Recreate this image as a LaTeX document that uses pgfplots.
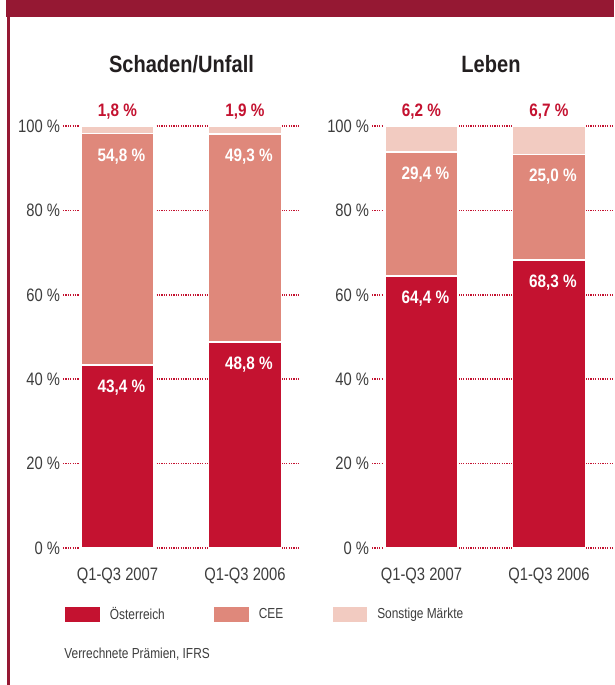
\documentclass[border=0pt]{standalone}
\usepackage{fontspec}
\setmainfont{Liberation Sans}[FakeStretch=0.82]
\newfontfamily\bcond{Liberation Sans}[FakeStretch=0.85]
\usepackage{pgfplots}
\pgfplotsset{compat=1.18}
\definecolor{oest}{HTML}{C41230}
\definecolor{cee}{HTML}{DF887B}
\definecolor{sonst}{HTML}{F2CBC1}
\definecolor{banner}{HTML}{951833}
\definecolor{tickgray}{HTML}{3D3D3D}
\definecolor{titlegray}{HTML}{231F20}

\pgfplotsset{
  panel/.style={
    scale only axis, height=211pt,
    ymin=0, ymax=100,
    ybar stacked, bar width=36.5pt,
    enlargelimits=false, clip=false,
    axis line style={draw=none}, tick style={draw=none}, major tick length=0pt,
    ytick={0,20,...,100},
    yticklabels={0 \%,20 \%,40 \%,60 \%,80 \%,100 \%},
    ymajorgrids,
    grid style={line width=0.75pt, draw=oest, dash pattern=on 0.6pt off 0.6pt},
    yticklabel style={anchor=east, inner sep=0pt, xshift=-1.25pt,
      font=\fontsize{9}{10}\selectfont, text=tickgray},
    xtick={0,1},
    xticklabels={Q1-Q3 2007,Q1-Q3 2006},
    xticklabel style={anchor=north, inner sep=0pt, yshift=-10pt,
      font=\fontsize{9}{10}\selectfont, text=tickgray},
    every axis plot/.append style={draw=white, line width=0.75pt},
  },
  leg/.style={legend image code/.code={\fill[##1] (0pt,-4.25pt) rectangle (18pt,4.25pt);}},
}
\tikzset{
  inlab/.style={anchor=north east, inner sep=0pt, yshift=-7.25pt, text=white,
    font=\bcond\bfseries\fontsize{9}{10}\selectfont},
  toplab/.style={anchor=base, inner sep=0pt, yshift=5pt, text=oest,
    font=\bcond\bfseries\fontsize{9}{10}\selectfont},
}

\begin{document}
\begin{tikzpicture}
\fill[white] (0,0) rectangle (307pt,-342.5pt);
\fill[banner] (3pt,0) rectangle (307pt,-8.5pt);
\fill[banner] (3.5pt,0) rectangle (4.9pt,-342.5pt);

\node[anchor=base, text=titlegray, font=\bcond\bfseries\fontsize{11.8}{13}\selectfont]
  at (90.75pt,-36.25pt) {Schaden/Unfall};
\node[anchor=base, text=titlegray, font=\bcond\bfseries\fontsize{11.8}{13}\selectfont]
  at (245.5pt,-36.25pt) {Leben};

% Left panel
\begin{axis}[panel, at={(31.5pt,-274pt)}, anchor=south west,
  width=118.5pt, xmin=-0.4275, xmax=1.4314,
  legend style={draw=none, fill=none, inner sep=0pt, outer sep=0pt,
    at={(axis description cs:0.0042,-0.1576)}, anchor=west,
    font=\fontsize{7.25}{8}\selectfont, text=tickgray,
    /tikz/every odd column/.append style={column sep=4.25pt},
    /tikz/every even column/.append style={column sep=24pt},
    nodes={inner sep=0pt}},
  legend columns=3]
\addplot[fill=oest, leg] coordinates {(0,43.4) (1,48.8)};
\addlegendentry{Österreich}
\addplot[fill=cee, leg] coordinates {(0,54.8) (1,49.3)};
\addlegendentry{CEE}
\addplot[fill=sonst, leg] coordinates {(0,1.8) (1,1.9)};
\addlegendentry{Sonstige Märkte}
\coordinate (L1) at (axis cs:0.22,43.4);
\coordinate (L2) at (axis cs:1.22,48.8);
\coordinate (L3) at (axis cs:0.22,98.2);
\coordinate (L4) at (axis cs:1.22,98.1);
\coordinate (L5) at (axis cs:0,100);
\coordinate (L6) at (axis cs:1,100);
\end{axis}
\node[inlab] at (L1) {43,4 \%};
\node[inlab] at (L2) {48,8 \%};
\node[inlab] at (L3) {54,8 \%};
\node[inlab] at (L4) {49,3 \%};
\node[toplab] at (L5) {1,8 \%};
\node[toplab] at (L6) {1,9 \%};

% Right panel
\begin{axis}[panel, at={(186pt,-274pt)}, anchor=south west,
  width=121pt, xmin=-0.3882, xmax=1.510]
\addplot[fill=oest] coordinates {(0,64.4) (1,68.3)};
\addplot[fill=cee] coordinates {(0,29.4) (1,25.0)};
\addplot[fill=sonst] coordinates {(0,6.2) (1,6.7)};
\coordinate (R1) at (axis cs:0.22,64.4);
\coordinate (R2) at (axis cs:1.22,68.3);
\coordinate (R3) at (axis cs:0.22,93.8);
\coordinate (R4) at (axis cs:1.22,93.3);
\coordinate (R5) at (axis cs:0,100);
\coordinate (R6) at (axis cs:1,100);
\end{axis}
\node[inlab] at (R1) {64,4 \%};
\node[inlab] at (R2) {68,3 \%};
\node[inlab] at (R3) {29,4 \%};
\node[inlab] at (R4) {25,0 \%};
\node[toplab] at (R5) {6,2 \%};
\node[toplab] at (R6) {6,7 \%};

\node[anchor=base west, inner sep=0pt, text=tickgray, font=\fontsize{7.25}{8}\selectfont]
  at (32pt,-329pt) {Verrechnete Prämien, IFRS};
\end{tikzpicture}
\end{document}
